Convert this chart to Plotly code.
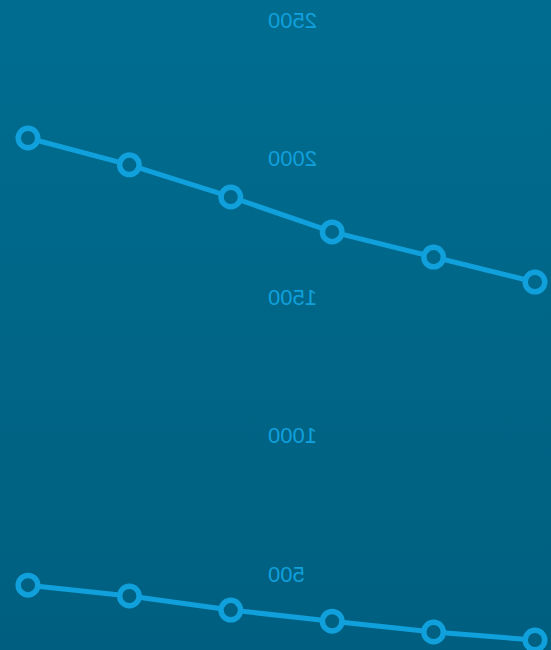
import plotly.graph_objects as go

categories = ["1", "2", "3", "4", "5", "6"]
series_a = [1554, 1644, 1735, 1861, 1977, 2074]
series_b = [262, 291, 330, 370, 421, 460]
tick_values = [500, 1000, 1500, 2000, 2500]
tick_labels = ["500", "1000", "1500", "2000", "2500"]

line_color = "#10a0dc"

fig = go.Figure()
for vals, fillc in ((series_a, "#00688b"), (series_b, "#006183")):
    fig.add_trace(go.Scatter(
        x=list(range(len(categories))), y=vals, mode="lines+markers",
        line=dict(color=line_color, width=5),
        marker=dict(symbol="circle", size=19.5, color=fillc,
                    line=dict(color=line_color, width=5.5)),
        showlegend=False, hoverinfo="skip",
    ))

fig.update_layout(
    width=551, height=650,
    margin=dict(l=0, r=0, t=0, b=0),
    paper_bgcolor="rgba(0,0,0,0)",
    plot_bgcolor="rgba(0,0,0,0)",
    xaxis=dict(range=[-0.158, 5.276], visible=False, domain=[0, 1]),
    yaxis=dict(range=[226, 2572], tickvals=tick_values, ticktext=tick_labels,
               showgrid=False, zeroline=False, showline=False, ticks="",
               anchor="free", position=0.5136,
               tickfont=dict(family="Liberation Sans", size=22, color=line_color)),
)

post = """
document.body.style.margin='0';
document.body.style.padding='0';
var gd=document.getElementById('{plot_id}');
gd.style.background='linear-gradient(to bottom, #006d90, #005f80)';
gd.style.transform='scaleX(-1)';
"""
fig.write_html("out.html", post_script=post, config={"displayModeBar": False})
